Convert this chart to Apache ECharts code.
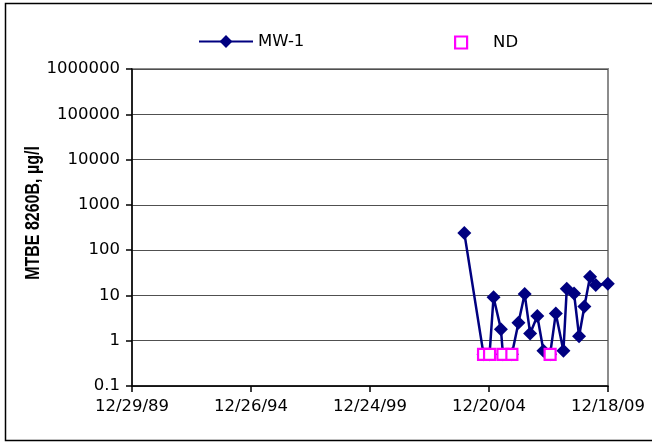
<!DOCTYPE html>
<html>
<head>
<meta charset="utf-8">
<script src="https://cdn.jsdelivr.net/npm/echarts@6/dist/echarts.min.js"></script>
<style>
  html, body { margin: 0; padding: 0; background: #fff; }
  #chart { width: 652px; height: 442px; }
</style>
</head>
<body>
<div id="chart"></div>
<script>
// Sampling dates and MTBE results (µg/l); non-detects are plotted at 0.5
const mw1Dates = ["2003-12-08","2004-09-28","2004-12-29","2005-02-28","2005-06-21","2005-07-22",
  "2005-12-06","2006-03-17","2006-06-20","2006-09-12","2006-12-31","2007-04-04","2007-07-15",
  "2007-10-10","2008-02-04","2008-03-26","2008-07-16","2008-10-01","2008-12-21","2009-03-18",
  "2009-06-13","2009-12-15"];
const mw1Values = [240, 0.5, 0.5, 9.1, 1.8, 0.5, 0.5, 2.5, 10.8, 1.45, 3.5, 0.6, 0.5,
  4.0, 0.6, 14, 11, 1.25, 5.7, 26, 17, 18];

const ndDates = ["2004-09-28","2004-12-29","2005-07-22","2005-12-06","2007-07-15"];
const ndValues = [0.5, 0.5, 0.5, 0.5, 0.5];

// Time axis in days, spreadsheet-style serial numbers
const axisStart = "1989-12-29";
const axisEnd = "2009-12-18";
const tickCount = 4;

const yMin = 0.1;
const yMax = 1000000;

const DAY = 86400000;
function toDay(s) {
  const p = s.split("-").map(Number);
  return Date.UTC(p[0], p[1] - 1, p[2]) / DAY;
}
const day0 = toDay(axisStart);
const span = toDay(axisEnd) - day0;
function offset(s) { return toDay(s) - day0; }
function fmtDate(v) {
  const d = new Date((day0 + Math.floor(v + 1e-6)) * DAY);
  const yy = String(d.getUTCFullYear() % 100).padStart(2, "0");
  return (d.getUTCMonth() + 1) + "/" + d.getUTCDate() + "/" + yy;
}

const mw1Data = mw1Dates.map((d, i) => [offset(d), mw1Values[i]]);
const ndData = ndDates.map((d, i) => [offset(d), ndValues[i]]);

const labelFont = "DejaVu Sans";
const chart = echarts.init(document.getElementById("chart"), null, { renderer: "canvas" });

chart.setOption({
  animation: false,
  backgroundColor: "#ffffff",
  grid: {
    left: 132, right: 44, top: 69, bottom: 56,
    show: true, borderColor: "#8c8c8c", borderWidth: 2, backgroundColor: "transparent"
  },
  legend: [
    {
      data: ["MW-1"], left: 198, top: 33, padding: 0,
      itemWidth: 54, itemHeight: 16,
      textStyle: { fontFamily: labelFont, fontSize: 16.5, color: "#000" }
    },
    {
      data: ["ND"], left: 454, top: 34, padding: 0,
      itemWidth: 12, itemHeight: 12,
      itemStyle: { color: "#ffffff", borderColor: "#ff00ff", borderWidth: 2.2, opacity: 1 },
      textStyle: { fontFamily: labelFont, fontSize: 16.5, color: "#000", padding: [0, 0, 0, 21] }
    }
  ],
  xAxis: {
    type: "value", min: 0, max: span, interval: span / tickCount,
    axisLine: { show: true, lineStyle: { color: "#000", width: 1.5 } },
    axisTick: { show: true, length: 6, lineStyle: { color: "#000", width: 1.5 } },
    splitLine: { show: false },
    axisLabel: {
      formatter: fmtDate, margin: 12, color: "#000",
      fontFamily: labelFont, fontSize: 16.5, showMinLabel: true, showMaxLabel: true
    }
  },
  yAxis: {
    type: "log", logBase: 10, min: yMin, max: yMax,
    axisLine: { show: true, lineStyle: { color: "#000", width: 1.5 } },
    axisTick: { show: true, length: 6, lineStyle: { color: "#000", width: 1.5 } },
    splitLine: { show: true, lineStyle: { color: "#505050", width: 1 } },
    minorTick: { show: false },
    axisLabel: {
      formatter: v => String(Number(v.toPrecision(6))),
      margin: 12, color: "#000", fontFamily: labelFont, fontSize: 16.5
    }
  },
  graphic: [
    {
      type: "text", x: 33, y: 213, rotation: Math.PI / 2, scaleY: 1.25,
      style: {
        text: "MTBE 8260B, µg/l", fill: "#000",
        fontFamily: "Liberation Sans", fontSize: 16, fontWeight: "bold",
        align: "center", verticalAlign: "middle"
      }
    },
    {
      type: "rect", z: -1,
      shape: { x: 5.5, y: 3.5, width: 660, height: 437 },
      style: { fill: null, stroke: "#000", lineWidth: 1.5 }
    }
  ],
  series: [
    {
      name: "MW-1", type: "line", data: mw1Data,
      symbol: "diamond", symbolSize: 14, showAllSymbol: true, clip: false,
      lineStyle: { color: "#000080", width: 2.5 },
      itemStyle: { color: "#000080" },
      z: 2
    },
    {
      name: "ND", type: "scatter", data: ndData,
      symbol: "rect", symbolSize: 11, clip: false,
      itemStyle: { color: "#ffffff", borderColor: "#ff00ff", borderWidth: 2.2, opacity: 1 },
      z: 3
    }
  ]
});
</script>
</body>
</html>
